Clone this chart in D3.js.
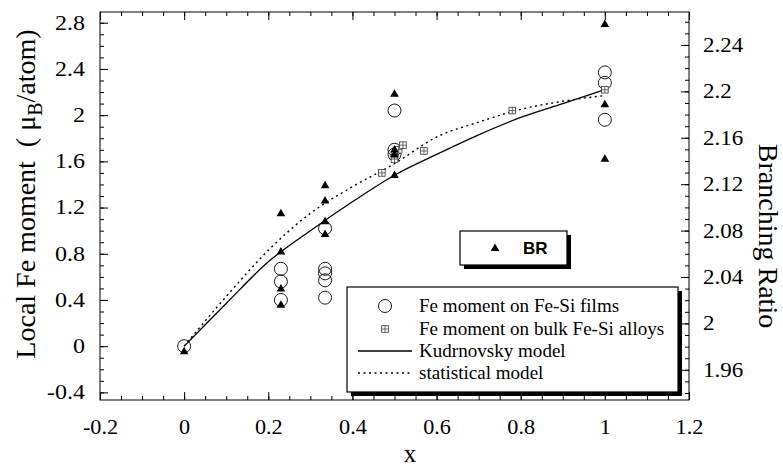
<!DOCTYPE html>
<html><head><meta charset="utf-8">
<script src="https://cdn.jsdelivr.net/npm/d3@7/dist/d3.min.js"></script>
<style>
body{margin:0;background:#fff}
svg{display:block}
</style>
</head><body>
<svg id="c" width="783" height="469"></svg>
<script>
// ---- data ----
const xTicks = [-0.2, 0, 0.2, 0.4, 0.6, 0.8, 1, 1.2];
const xTickLabels = ["-0.2", "0", "0.2", "0.4", "0.6", "0.8", "1", "1.2"];
const yLeftTicks = [-0.4, 0, 0.4, 0.8, 1.2, 1.6, 2, 2.4, 2.8];
const yLeftTickLabels = ["-0.4", "0", "0.4", "0.8", "1.2", "1.6", "2", "2.4", "2.8"];
const yRightTicks = [1.96, 2, 2.04, 2.08, 2.12, 2.16, 2.2, 2.24];
const yRightTickLabels = ["1.96", "2", "2.04", "2.08", "2.12", "2.16", "2.2", "2.24"];

// Fe moment on Fe-Si films (circles)
const filmX = [0, 0.23, 0.23, 0.23, 0.335, 0.335, 0.335, 0.335, 0.335, 0.5, 0.5, 0.5, 1, 1, 1];
const filmY = [0, 0.67, 0.56, 0.40, 1.02, 0.67, 0.63, 0.57, 0.42, 2.04, 1.70, 1.66, 2.37, 2.28, 1.96];
// Fe moment on bulk Fe-Si alloys (squares)
const bulkX = [0.47, 0.5, 0.5, 0.51, 0.52, 0.57, 0.78, 1];
const bulkY = [1.50, 1.62, 1.66, 1.70, 1.74, 1.69, 2.04, 2.22];
// Branching ratio (triangles, right axis)
const brX = [0, 0.23, 0.23, 0.23, 0.23, 0.335, 0.335, 0.335, 0.335, 0.5, 0.5, 0.5, 0.5, 1, 1, 1];
const brY = [1.976, 2.095, 2.062, 2.030, 2.016, 2.119, 2.106, 2.088, 2.077, 2.198, 2.150, 2.146, 2.128, 2.258, 2.189, 2.142];
// model curves
const modelX = [0, 0.1, 0.2, 0.3, 0.4, 0.5, 0.6, 0.7, 0.8, 0.9, 1.0];
const kudrY  = [0, 0.37, 0.73, 1.0, 1.25, 1.48, 1.66, 1.83, 1.98, 2.10, 2.22];
const statY  = [0, 0.43, 0.83, 1.15, 1.38, 1.58, 1.81, 1.94, 2.05, 2.12, 2.17];

const legendLabels = ["Fe moment on Fe-Si films", "Fe moment on bulk Fe-Si alloys", "Kudrnovsky model", "statistical model"];

// ---- layout ----
const SERIF = "'Liberation Serif','Times New Roman',Times,serif";
const SANS = "'Liberation Sans',Arial,Helvetica,sans-serif";
const svg = d3.select("#c");
const L = 100, R = 689, T = 12, B = 400;
const x = d3.scaleLinear().domain([-0.2, 1.2]).range([L, R]);
const yL = d3.scaleLinear().domain([-0.466, 2.893]).range([B, T]);
const yR = d3.scaleLinear().domain([1.934, 2.2684]).range([B, T]);

svg.append("rect").attr("width", 783).attr("height", 469).attr("fill", "#fff");

const fmt = (vals, labs) => d => labs[vals.indexOf(d)];
const xMinor = d3.range(-0.2, 1.2001, 0.05).map(v => +v.toFixed(2));
const yLMinor = d3.range(-0.4, 2.8001, 0.1).map(v => +v.toFixed(2));
const yRMinor = d3.range(1.94, 2.2601, 0.01).map(v => +v.toFixed(2));

function styleAxis(g) {
  g.select(".domain").remove();
  g.selectAll("line").attr("stroke", "#000").attr("stroke-width", 1);
}
function stretchText(sel, size, sx) {
  sel.each(function () {
    const t = d3.select(this);
    const tx = +t.attr("x") || 0, ty = +t.attr("y") || 0;
    t.attr("x", null).attr("y", null)
      .attr("transform", `translate(${tx},${ty}) scale(${sx},1)`)
      .style("font-family", SERIF).attr("font-size", size).attr("fill", "#000");
  });
}
// minor ticks
svg.append("g").attr("transform", `translate(0,${B})`).call(d3.axisBottom(x).tickValues(xMinor).tickSize(-4).tickFormat("")).call(styleAxis);
svg.append("g").attr("transform", `translate(0,${T})`).call(d3.axisTop(x).tickValues(xMinor).tickSize(-4).tickFormat("")).call(styleAxis);
svg.append("g").attr("transform", `translate(${L},0)`).call(d3.axisLeft(yL).tickValues(yLMinor).tickSize(-4).tickFormat("")).call(styleAxis);
svg.append("g").attr("transform", `translate(${R},0)`).call(d3.axisRight(yR).tickValues(yRMinor).tickSize(-4).tickFormat("")).call(styleAxis);
// major ticks
svg.append("g").attr("transform", `translate(0,${B})`)
  .call(d3.axisBottom(x).tickValues(xTicks).tickSize(-8).tickPadding(19).tickFormat(fmt(xTicks, xTickLabels)))
  .call(styleAxis).selectAll("text").call(stretchText, 21, 1.06);
svg.append("g").attr("transform", `translate(0,${T})`)
  .call(d3.axisTop(x).tickValues(xTicks).tickSize(-8).tickFormat("")).call(styleAxis);
svg.append("g").attr("transform", `translate(${L},0)`)
  .call(d3.axisLeft(yL).tickValues(yLeftTicks).tickSize(-8).tickPadding(15).tickFormat(fmt(yLeftTicks, yLeftTickLabels)))
  .call(styleAxis).selectAll("text").call(stretchText, 20, 1.2);
svg.append("g").attr("transform", `translate(${R},0)`)
  .call(d3.axisRight(yR).tickValues(yRightTicks).tickSize(-8).tickPadding(14).tickFormat(fmt(yRightTicks, yRightTickLabels)))
  .call(styleAxis).selectAll("text").call(stretchText, 20, 1.15);

// frame
svg.append("rect").attr("x", L).attr("y", T).attr("width", R - L).attr("height", B - T)
  .attr("fill", "none").attr("stroke", "#000").attr("stroke-width", 1);

// curves
const lineK = d3.line().x((d, i) => x(modelX[i])).y(d => yL(d)).curve(d3.curveMonotoneX);
svg.append("path").attr("d", lineK(kudrY)).attr("fill", "none").attr("stroke", "#000").attr("stroke-width", 1.3);
svg.append("path").attr("d", lineK(statY)).attr("fill", "none").attr("stroke", "#000").attr("stroke-width", 1.4).attr("stroke-dasharray", "2,3.5");

// markers
function circleMark(g, cx, cy) {
  g.append("circle").attr("cx", cx).attr("cy", cy).attr("r", 6.5).attr("fill", "none").attr("stroke", "#000").attr("stroke-width", 0.9);
}
function squareMark(g, cx, cy) {
  const s = 3.3;
  g.append("rect").attr("x", cx - s).attr("y", cy - s).attr("width", 2 * s).attr("height", 2 * s)
    .attr("fill", "#fff").attr("stroke", "#333").attr("stroke-width", 0.8);
  g.append("path").attr("d", `M${cx - s},${cy}H${cx + s}M${cx},${cy - s}V${cy + s}`).attr("stroke", "#333").attr("stroke-width", 0.7);
}
function triMark(g, cx, cy) {
  g.append("path").attr("d", `M${cx},${cy - 4.5}L${cx + 4.3},${cy + 3}L${cx - 4.3},${cy + 3}Z`).attr("fill", "#000");
}
const gm = svg.append("g");
filmX.forEach((v, i) => circleMark(gm, x(v), yL(filmY[i])));
bulkX.forEach((v, i) => squareMark(gm, x(v), yL(bulkY[i])));
brX.forEach((v, i) => triMark(gm, x(v), yR(brY[i])));

// legend boxes
function shadowBox(x0, y0, w, h, off) {
  svg.append("rect").attr("x", x0 + off).attr("y", y0 + off).attr("width", w).attr("height", h).attr("fill", "#000");
  svg.append("rect").attr("x", x0).attr("y", y0).attr("width", w).attr("height", h).attr("fill", "#fff").attr("stroke", "#000").attr("stroke-width", 1.2);
}
// BR legend
shadowBox(460, 231, 107, 34, 4);
triMark(svg, 495, 248);
svg.append("text").attr("x", 523).attr("y", 254).attr("font-size", 17).attr("font-weight", "bold")
  .style("font-family", SANS).text("BR");

// main legend
shadowBox(347, 287, 331, 105, 4);
const rows = [306, 329, 351, 373];
circleMark(svg, 385, rows[0]);
squareMark(svg, 385, rows[1]);
svg.append("line").attr("x1", 358).attr("x2", 412).attr("y1", rows[2]).attr("y2", rows[2]).attr("stroke", "#000").attr("stroke-width", 1.3);
svg.append("line").attr("x1", 358).attr("x2", 412).attr("y1", rows[3]).attr("y2", rows[3]).attr("stroke", "#000").attr("stroke-width", 1.4).attr("stroke-dasharray", "2,3.5");
legendLabels.forEach((t, i) => {
  svg.append("text").attr("transform", `translate(419,${rows[i] + 6}) scale(1.06,1)`)
    .attr("font-size", 18).style("font-family", SERIF).text(t);
});

// axis titles
svg.append("text").attr("x", 410).attr("y", 462).attr("text-anchor", "middle").attr("font-size", 25)
  .style("font-family", SERIF).text("x");
const lt = svg.append("text").attr("transform", "translate(35,194) rotate(-90)").attr("text-anchor", "middle")
  .attr("font-size", 28).style("font-family", SERIF).style("white-space", "pre");
lt.append("tspan").text("Local Fe moment  ( \u03BC");
lt.append("tspan").attr("dy", 7).attr("font-size", 20).text("B");
lt.append("tspan").attr("dy", -7).text("/atom)");
svg.append("text").attr("transform", "translate(759,236) rotate(90)").attr("text-anchor", "middle")
  .attr("font-size", 28).style("font-family", SERIF).text("Branching Ratio");
</script>
</body></html>
